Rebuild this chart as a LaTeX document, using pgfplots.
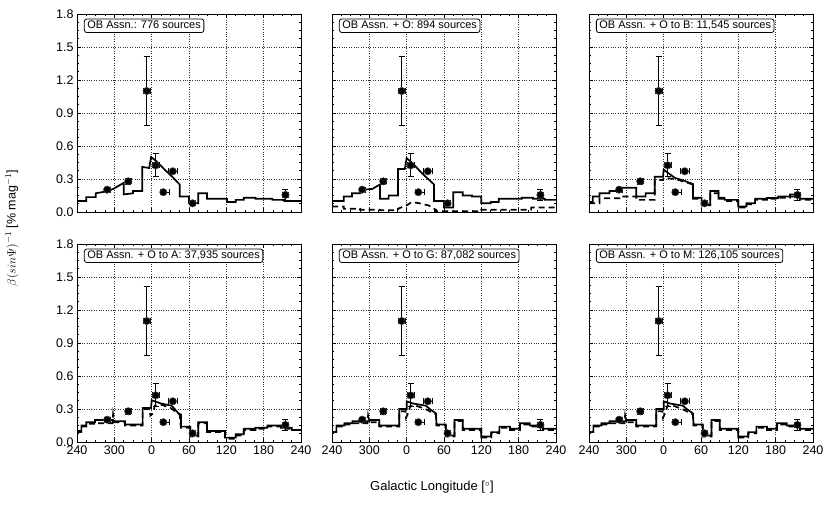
\documentclass[border=0pt]{standalone}
\usepackage{fontspec}
\setmainfont{Liberation Sans}
\usepackage{pgfplots}
\usepackage{pgfplotstable}
\pgfplotsset{compat=1.18}

\pgfplotstableread{
x y exm exp ey
-71.6 0.203 5 5 0.02
-37.7 0.279 5 5 0.025
-8.0 1.10 6 6 0.31
6.5 0.424 6 6 0.105
18.8 0.18 4 10 0.015
33.9 0.37 7 7 0.02
65.7 0.079 4 4 0.015
215 0.155 5 5 0.05
}\pts

\pgfplotsset{
  panel/.style={
    scale only axis, width=224pt, height=198pt,
    anchor=south west,
    xmin=-120, xmax=240, ymin=0, ymax=1.8,
    xtick={-120,-60,0,60,120,180,240},
    xticklabels={240,300,0,60,120,180,240},
    ytick={0,0.3,0.6,0.9,1.2,1.5,1.8},
    yticklabels={0.0,0.3,0.6,0.9,1.2,1.5,1.8},
    minor x tick num=3, minor y tick num=3,
    tick align=inside, xtick pos=both, ytick pos=both,
    grid=major, major grid style={dotted, black!80, line width=0.6pt},
    major tick length=4pt, minor tick length=2pt,
    every tick/.style={black, line width=0.6pt},
    tick label style={font=\fontsize{12.5}{14}\selectfont},
    /pgf/number format/assume math mode=true,
    axis line style={line width=0.8pt},
    clip=true,
  },
  sol/.style={black, line width=1.7pt, line join=miter, no marks},
  das/.style={black, line width=1.7pt, dash pattern=on 6pt off 4pt, no marks},
}

\newcommand{\drawpts}{%
  \addplot[only marks, mark=*, mark size=3.7pt, black,
    mark options={draw=black!70, fill=black, line width=0.5pt},
    error bars/.cd, x dir=both, x explicit, y dir=both, y explicit,
    error bar style={line width=0.9pt, black},
    error mark options={rotate=90, line width=0.9pt, mark size=3pt, black}]
    table[x=x, y=y, x error plus=exp, x error minus=exm, y error=ey] {\pts};}

\newcommand{\lab}[1]{%
  \node[draw, line width=0.8pt, rounded corners=2.5pt, fill=white, anchor=north west,
    inner xsep=3pt, inner ysep=1.6pt, text height=8.2pt, text depth=2.2pt,
    font=\fontsize{11}{13}\selectfont] at (rel axis cs:0.031,0.977) {#1};}

\begin{document}
\begin{tikzpicture}
\path[use as bounding box] (0,0) rectangle (830pt,504pt);

% ---------- Panel 1
\begin{axis}[panel, at={(77pt,292pt)}, xticklabels={}]
\addplot[sol] coordinates {(-120,0.10) (-105,0.10) (-105,0.135) (-90,0.135) (-90,0.17) (-80,0.18) (-70,0.19) (-60,0.215) (-45,0.265) (-45,0.16) (-30,0.17) (-30,0.19) (-15,0.19) (-15,0.41) (-4,0.40) (-1,0.50) (8,0.46) (20,0.39) (35,0.31) (45,0.25) (45,0.14) (60,0.14) (60,0.08) (75,0.08) (75,0.17) (89,0.17) (89,0.12) (121,0.12) (121,0.09) (135,0.09) (135,0.11) (148,0.11) (148,0.13) (167,0.13) (167,0.12) (194,0.12) (194,0.11) (213,0.11) (213,0.10) (240,0.10)};
\drawpts
\lab{OB Assn.: 776 sources}
\end{axis}

% ---------- Panel 2
\begin{axis}[panel, at={(332pt,292pt)}, xticklabels={}, yticklabels={}]
\addplot[das] coordinates {(-120,0.05) (-101,0.05) (-101,0.03) (-75,0.03) (-75,0.02) (-43,0.02) (-43,0.015) (-14,0.015) (-14,0.03) (0,0.06) (8,0.09) (20,0.08) (35,0.06) (47,0.02) (47,0.008) (120,0.008) (120,0.02) (200,0.02) (200,0.04) (240,0.04)};
\addplot[sol] coordinates {(-120,0.10) (-101,0.10) (-101,0.14) (-88,0.14) (-88,0.17) (-75,0.17) (-75,0.20) (-55,0.21) (-43,0.25) (-43,0.12) (-29,0.12) (-29,0.15) (-14,0.15) (-14,0.39) (-3,0.39) (0,0.49) (10,0.44) (25,0.35) (44,0.25) (44,0.10) (60,0.10) (60,0.04) (75,0.04) (75,0.18) (90,0.18) (90,0.15) (105,0.15) (105,0.14) (120,0.14) (120,0.08) (135,0.08) (135,0.09) (148,0.09) (148,0.12) (185,0.12) (185,0.13) (203,0.13) (203,0.12) (222,0.12) (222,0.11) (240,0.11)};
\drawpts
\lab{OB Assn. + O: 894 sources}
\end{axis}

% ---------- Panel 3
\begin{axis}[panel, at={(589pt,292pt)}, xticklabels={}, yticklabels={}]
\addplot[das] coordinates {(-120,0.08) (-103,0.08) (-103,0.125) (-71,0.125) (-71,0.14) (-44,0.14) (-44,0.11) (-14.5,0.11) (-14.5,0.29) (-1,0.29) (0,0.31) (18,0.30) (30,0.28) (47,0.25) (47,0.12) (61,0.12) (61,0.06) (75,0.06) (75,0.17) (88,0.17) (88,0.12) (98,0.12) (98,0.10) (120,0.10) (120,0.04) (133,0.04) (133,0.07) (147,0.07) (147,0.11) (166,0.11) (166,0.12) (184,0.12) (184,0.13) (203,0.13) (203,0.14) (219,0.14) (219,0.11) (240,0.11)};
\addplot[sol] coordinates {(-120,0.09) (-114,0.09) (-114,0.14) (-103,0.14) (-103,0.17) (-87,0.17) (-87,0.19) (-71,0.19) (-71,0.22) (-44,0.22) (-44,0.14) (-29,0.14) (-29,0.17) (-14.5,0.17) (-14.5,0.32) (-1,0.32) (0,0.385) (18,0.31) (30,0.29) (47,0.255) (47,0.13) (61,0.13) (61,0.067) (75,0.067) (75,0.19) (88,0.19) (88,0.13) (98,0.13) (98,0.11) (120,0.11) (120,0.05) (133,0.05) (133,0.08) (147,0.08) (147,0.12) (166,0.12) (166,0.127) (184,0.127) (184,0.14) (203,0.14) (203,0.16) (219,0.16) (219,0.12) (240,0.12)};
\drawpts
\lab{OB Assn. + O to B: 11,545 sources}
\end{axis}

% ---------- Panel 4
\begin{axis}[panel, at={(77pt,62pt)}]
\addplot[das] coordinates {(-120,0.09) (-113,0.09) (-113,0.14) (-105,0.14) (-105,0.165) (-91,0.165) (-91,0.17) (-63,0.17) (-62,0.25) (-60,0.18) (-43,0.18) (-43,0.15) (-14.5,0.15) (-14.5,0.30) (-3,0.30) (-2,0.24) (2,0.26) (5,0.33) (15,0.34) (30,0.31) (45,0.25) (47,0.13) (62,0.13) (62,0.05) (75,0.05) (75,0.17) (89,0.17) (89,0.09) (118,0.09) (118,0.03) (135,0.03) (135,0.06) (148,0.06) (148,0.11) (167,0.11) (167,0.12) (186,0.12) (186,0.14) (208,0.14) (208,0.12) (225,0.12) (225,0.11) (240,0.11)};
\addplot[sol] coordinates {(-120,0.10) (-113,0.10) (-113,0.15) (-105,0.15) (-105,0.18) (-91,0.18) (-91,0.20) (-62,0.20) (-62,0.19) (-43,0.19) (-43,0.16) (-14.5,0.16) (-14.5,0.31) (-1,0.31) (0,0.38) (15,0.35) (32,0.33) (37,0.30) (43,0.26) (47,0.25) (47,0.14) (62,0.14) (62,0.06) (75,0.06) (75,0.18) (89,0.18) (89,0.10) (118,0.10) (118,0.04) (135,0.04) (135,0.07) (148,0.07) (148,0.12) (167,0.12) (167,0.13) (186,0.13) (186,0.15) (208,0.15) (208,0.13) (225,0.13) (225,0.11) (240,0.11)};
\drawpts
\lab{OB Assn. + O to A: 37,935 sources}
\end{axis}

% ---------- Panel 5
\begin{axis}[panel, at={(332pt,62pt)}, yticklabels={}]
\addplot[das] coordinates {(-120,0.09) (-113,0.09) (-113,0.14) (-100,0.14) (-100,0.16) (-87,0.16) (-87,0.17) (-63,0.17) (-62,0.24) (-60,0.18) (-44,0.18) (-44,0.14) (-12,0.14) (-12,0.28) (-2,0.28) (-1,0.22) (3,0.27) (6,0.33) (15,0.33) (30,0.30) (47,0.25) (48,0.15) (63,0.15) (63,0.05) (77,0.05) (77,0.19) (90,0.19) (90,0.11) (120,0.11) (120,0.04) (136,0.04) (136,0.08) (149,0.08) (149,0.13) (166,0.13) (166,0.11) (182,0.11) (182,0.16) (198,0.16) (198,0.14) (219,0.14) (219,0.11) (240,0.11)};
\addplot[sol] coordinates {(-120,0.09) (-113,0.09) (-113,0.15) (-100,0.15) (-100,0.17) (-87,0.17) (-87,0.19) (-60,0.19) (-60,0.20) (-44,0.20) (-44,0.15) (-12,0.15) (-12,0.30) (0,0.30) (0,0.37) (10,0.35) (31,0.33) (37,0.30) (47,0.26) (48,0.16) (63,0.16) (63,0.06) (77,0.06) (77,0.20) (90,0.20) (90,0.12) (120,0.12) (120,0.05) (136,0.05) (136,0.09) (149,0.09) (149,0.14) (166,0.14) (166,0.12) (182,0.12) (182,0.17) (198,0.17) (198,0.15) (219,0.15) (219,0.12) (240,0.12)};
\drawpts
\lab{OB Assn. + O to G: 87,082 sources}
\end{axis}

% ---------- Panel 6
\begin{axis}[panel, at={(589pt,62pt)}, yticklabels={}]
\addplot[das] coordinates {(-120,0.09) (-113,0.09) (-113,0.14) (-100,0.14) (-100,0.16) (-87,0.16) (-87,0.17) (-63,0.17) (-62,0.24) (-60,0.18) (-44,0.18) (-44,0.14) (-12,0.14) (-12,0.28) (-2,0.28) (-1,0.22) (3,0.27) (6,0.33) (15,0.33) (30,0.30) (47,0.25) (48,0.15) (63,0.15) (63,0.05) (77,0.05) (77,0.19) (90,0.19) (90,0.11) (120,0.11) (120,0.04) (136,0.04) (136,0.08) (149,0.08) (149,0.13) (166,0.13) (166,0.11) (182,0.11) (182,0.16) (198,0.16) (198,0.14) (219,0.14) (219,0.11) (240,0.11)};
\addplot[sol] coordinates {(-120,0.09) (-113,0.09) (-113,0.15) (-100,0.15) (-100,0.17) (-87,0.17) (-87,0.19) (-60,0.19) (-60,0.20) (-44,0.20) (-44,0.15) (-12,0.15) (-12,0.30) (0,0.30) (0,0.37) (10,0.35) (31,0.33) (37,0.30) (47,0.26) (48,0.16) (63,0.16) (63,0.06) (77,0.06) (77,0.20) (90,0.20) (90,0.12) (120,0.12) (120,0.05) (136,0.05) (136,0.09) (149,0.09) (149,0.14) (166,0.14) (166,0.12) (182,0.12) (182,0.17) (198,0.17) (198,0.15) (219,0.15) (219,0.12) (240,0.12)};
\drawpts
\lab{OB Assn. + O to M: 126,105 sources}
\end{axis}

\node[rotate=90, font=\fontsize{12.5}{14}\selectfont] at (12pt,276pt) {$\beta(sin\Psi)^{-1}$ [\% mag$^{-1}$]};
\node[font=\fontsize{13}{15}\selectfont] at (432pt,17pt) {Galactic Longitude [$^\circ$]};
\end{tikzpicture}
\end{document}
